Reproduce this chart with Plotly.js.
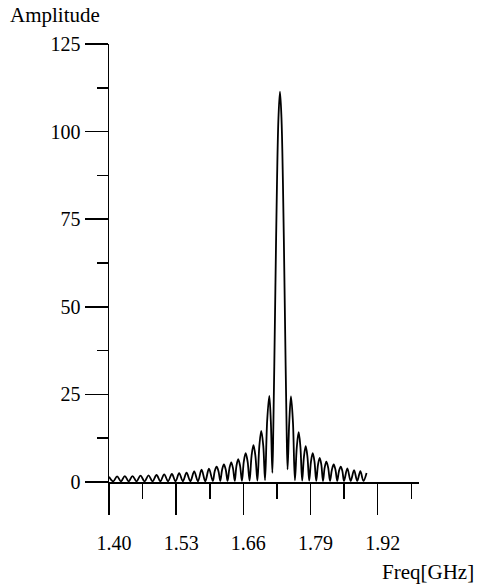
<!DOCTYPE html>
<html>
<head>
<meta charset="utf-8">
<script src="https://cdn.plot.ly/plotly-3.0.1.min.js"></script>
<style>
  html, body { margin: 0; padding: 0; background: #ffffff; }
  #chart { width: 478px; height: 585px; }
</style>
</head>
<body>
<div id="chart"></div>
<script>
// Frequency samples (GHz)
var freqGHz = [
  1.4000,1.4080,1.4157,1.4232,1.4306,1.4381,1.4455,1.4533,1.4610,1.4688,
  1.4765,1.4843,1.4920,1.4994,1.5068,1.5143,1.5217,1.5288,1.5358,1.5430,
  1.5501,1.5575,1.5649,1.5721,1.5792,1.5863,1.5934,1.6009,
  1.6046,1.6083,1.6119,1.6154,
  1.6189,1.6224,1.6260,1.6295,
  1.6331,1.6366,1.6400,1.6434,
  1.6467,1.6501,1.6537,1.6573,
  1.6609,1.6645,1.6683,1.6721,
  1.6759,1.6796,1.6834,1.6872,
  1.6910,1.6947,1.6986,1.7020,
  1.7061,1.7102,1.7132,1.7162,
  1.7181,1.7199,1.7222,1.7251,1.7280,1.7309,1.7338,1.7367,1.7396,1.7419,1.7437,1.7456,
  1.7489,1.7522,1.7560,1.7598,
  1.7635,1.7671,1.7705,1.7739,
  1.7773,1.7807,1.7841,1.7875,
  1.7909,1.7943,1.7977,1.8011,
  1.8045,1.8078,1.8110,1.8142,
  1.8174,1.8206,1.8242,1.8278,
  1.8314,1.8349,1.8383,1.8417,
  1.8451,1.8485,1.8517,1.8549,
  1.8613,1.8678,1.8743,1.8804,1.8865,1.8923,1.8985
];

// Amplitude values
var amplitude = [
  1.5,0.2,1.6,0.2,1.7,0.2,1.7,0.2,1.8,0.2,
  1.9,0.2,2.0,0.2,2.2,0.2,2.3,0.2,2.5,0.2,
  2.7,0.2,3.0,0.2,3.5,0.2,3.8,0.3,
  3.1,4.4,3.1,0.3,
  3.5,5.0,3.5,0.3,
  3.9,5.6,3.9,0.3,
  4.6,6.5,4.6,0.3,
  5.8,8.2,5.8,0.4,
  7.4,10.5,7.4,0.4,
  10.3,14.6,10.3,0.5,
  17.4,24.6,17.4,2.6,
  16,33,57,85,104,111.4,104,85,57,33,16,3.6,
  17.2,24.4,17.2,0.5,
  10.0,14.2,10.0,0.4,
  7.2,10.2,7.2,0.4,
  5.8,8.2,5.8,0.3,
  4.9,6.9,4.9,0.3,
  4.1,5.8,4.1,0.3,
  3.5,5.0,3.5,0.3,
  3.1,4.4,3.1,0.3,
  3.9,0.3,3.4,0.3,3.1,0.3,2.6
];

// Axis ticks
var xTickVals = [1.40, 1.53, 1.66, 1.79, 1.92];
var xTickText = ["1.40", "1.53", "1.66", "1.79", "1.92"];
var xMinorVals = [1.465, 1.595, 1.725, 1.855, 1.985];
var yTickVals = [0, 25, 50, 75, 100, 125];
var yTickText = ["0", "25", "50", "75", "100", "125"];
var yMinorVals = [12.5, 37.5, 62.5, 87.5, 112.5];

var FONT = "Liberation Serif, Times New Roman, serif";

var trace = {
  x: freqGHz,
  y: amplitude,
  type: "scatter",
  mode: "lines",
  line: { color: "#000000", width: 1.8, shape: "spline", smoothing: 1 },
  hoverinfo: "skip"
};

var layout = {
  width: 478,
  height: 585,
  margin: { l: 109, r: 59, t: 44, b: 103, pad: 0 },
  paper_bgcolor: "#ffffff",
  plot_bgcolor: "#ffffff",
  showlegend: false,
  font: { family: FONT, size: 20, color: "#000000" },
  xaxis: {
    range: [1.40, 2.00],
    showline: true, linecolor: "#000000", linewidth: 1.5,
    showgrid: false, zeroline: false,
    ticks: "outside", ticklen: 31, tickwidth: 1.5, tickcolor: "#000000",
    tickmode: "array", tickvals: xTickVals, ticktext: xTickText,
    tickfont: { family: FONT, size: 20, color: "#000000" },
    ticklabelstandoff: 11,
    ticklabelshift: 5,
    minor: { tickmode: "array", tickvals: xMinorVals, ticks: "outside", ticklen: 15, tickwidth: 1.5, tickcolor: "#000000", showgrid: false },
    fixedrange: true
  },
  yaxis: {
    range: [0, 125],
    showline: true, linecolor: "#000000", linewidth: 1.5,
    showgrid: false, zeroline: false,
    ticks: "outside", ticklen: 23, tickwidth: 1.5, tickcolor: "#000000",
    tickmode: "array", tickvals: yTickVals, ticktext: yTickText,
    tickfont: { family: FONT, size: 20, color: "#000000" },
    minor: { tickmode: "array", tickvals: yMinorVals, ticks: "outside", ticklen: 11, tickwidth: 1.5, tickcolor: "#000000", showgrid: false },
    fixedrange: true
  },
  annotations: [
    {
      text: "Amplitude", xref: "paper", yref: "paper",
      x: -0.327, y: 1.066, xanchor: "left", yanchor: "middle",
      showarrow: false, font: { family: FONT, size: 21, color: "#000000" }
    },
    {
      text: "Freq[GHz]", xref: "paper", yref: "paper",
      x: 1.185, y: -0.206, xanchor: "right", yanchor: "middle",
      showarrow: false, font: { family: FONT, size: 21, color: "#000000" }
    }
  ]
};

Plotly.newPlot("chart", [trace], layout, { staticPlot: true, displayModeBar: false });
</script>
</body>
</html>
